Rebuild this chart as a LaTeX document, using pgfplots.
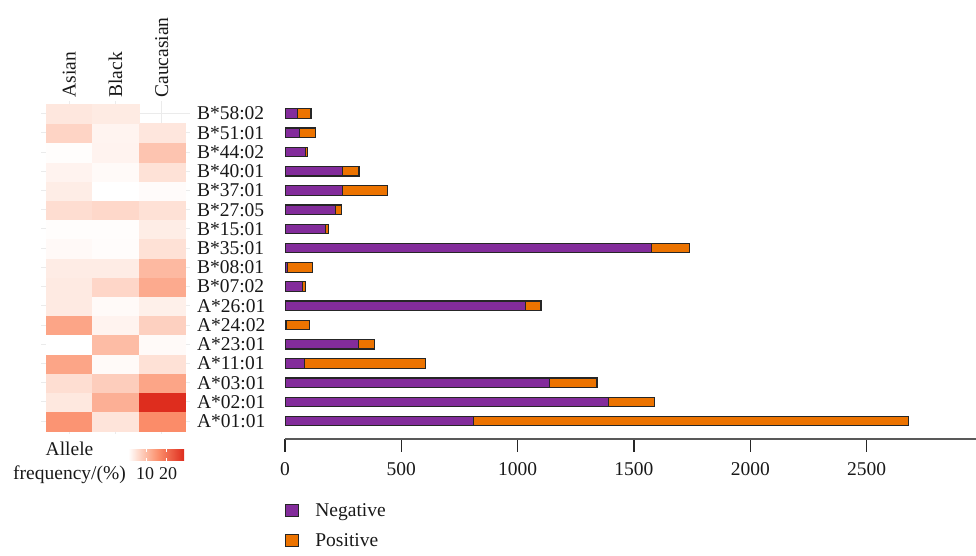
\documentclass[border=0pt]{standalone}
\usepackage{fontspec}
\setmainfont{Liberation Serif}
\usepackage{pgfplots}
\pgfplotsset{compat=1.18}
\pgfplotsset{/pgf/number format/assume math mode=true}
\pgfplotsset{sqlegend/.style={legend image code/.code={\draw[##1, line width=1.2pt] (0pt,-6pt) rectangle (13pt,6pt);}}}
\definecolor{negc}{RGB}{131,44,155}
\definecolor{posc}{RGB}{236,115,0}
\definecolor{gridc}{RGB}{235,235,235}
\definecolor{txt}{RGB}{25,25,25}
\pgfdeclareplotmark{tile}{\pgfpathrectangle{\pgfpoint{-23.17pt}{-9.61pt}}{\pgfpoint{46.33pt}{19.22pt}}\pgfusepathqfillstroke}

\pgfplotstableread{
x y v
1 1 15.0
2 1 4.4
3 1 16.1
1 2 3.9
2 2 11.4
3 2 28.7
1 3 5.2
2 3 7.4
3 3 12.8
1 4 12.8
2 4 1.5
3 4 4.8
1 5 0.8
2 5 9.7
3 5 1.5
1 6 12.8
2 6 2.4
3 6 7.05
1 7 3.6
2 7 1.5
3 7 2.8
1 8 3.6
2 8 6.2
3 8 12.1
1 9 3.3
2 9 3.3
3 9 10.1
1 10 1.6
2 10 1.2
3 10 4.8
1 11 1.06
2 11 1.06
3 11 3.2
1 12 5.3
2 12 6.0
3 12 4.8
1 13 3.2
2 13 0.8
3 13 1.33
1 14 2.4
2 14 1.46
3 14 4.65
1 15 1.06
2 15 2.4
3 15 8.6
1 16 6.5
2 16 2.3
3 16 4.1
1 17 4.0
2 17 3.5
}\heatdata

\pgfplotstableread{
y neg pos
1 811 1869
2 1392 195
3 1136 205
4 83 522
5 317 67
6 7 99
7 1034 66
8 76 11
9 10 107
10 1576 163
11 175 13
12 218 24
13 246 195
14 246 72
15 89 6
16 64 66
17 53 59
}\bardata

\begin{document}
\begin{tikzpicture}[font=\fontsize{19.5}{23}\selectfont, text=txt]
\useasboundingbox (0pt,0pt) rectangle (976pt,-556pt);
\begin{axis}[
  at={(41pt,-433.7pt)}, anchor=south west,
  scale only axis, width=149pt, height=332.7pt,
  xmin=0.392, xmax=3.608, ymin=0.344, ymax=17.656,
  xtick={1,2,3}, xticklabels={Asian,Black,Caucasian},
  xticklabel pos=upper,
  ytick={1,...,17},
  yticklabels={A*01:01,A*02:01,A*03:01,A*11:01,A*23:01,A*24:02,A*26:01,B*07:02,B*08:01,B*35:01,B*15:01,B*27:05,B*37:01,B*40:01,B*44:02,B*51:01,B*58:02},
  yticklabel pos=right,
  grid=major, major grid style={gridc, line width=1pt},
  axis line style={draw=none}, major tick length=0pt,
  xticklabel style={rotate=90, anchor=west},
  yticklabel style={anchor=west, xshift=3.5pt},
  colormap={heat}{rgb255(0pt)=(255,255,255); rgb255(143pt)=(254,225,214); rgb255(429pt)=(252,165,135); rgb255(548pt)=(251,140,105); rgb255(1000pt)=(222,45,30)},
  point meta min=0.8, point meta max=28.7,
  colorbar horizontal,
  colorbar style={
    at={(0.586,-0.046)}, anchor=north west,
    scale only axis, width=55.7pt, height=11.7pt,
    xtick={10,20}, xticklabels={{10\kern3pt},{\kern3pt20}}, ytick=\empty,
    axis line style={draw=none},
    xtick style={draw=white, line width=0.8pt},
    major tick length=2.5pt, tick align=inside, xtick pos=both,
    xticklabel pos=lower,
    xticklabel style={font=\fontsize{18}{22}\selectfont, yshift=-3.5pt},
  },
]
\addplot[scatter, only marks, mark=tile, point meta=explicit,
  scatter/use mapped color={draw=mapped color, fill=mapped color},
  mark options={line width=0.3pt}] table[x=x, y=y, meta=v] {\heatdata};
\end{axis}
\node[anchor=base] at (69.5pt,-455pt) {Allele};
\node[anchor=base] at (69.5pt,-479.5pt) {frequency/(\%)};

\begin{axis}[
  at={(285pt,-439pt)}, anchor=south west,
  scale only axis, width=691pt, height=335pt,
  xmin=0, xmax=2970, ymin=0.069, ymax=17.5,
  xbar stacked, bar width=9.5pt,
  axis x line*=bottom, axis y line=none,
  xtick={0,500,1000,1500,2000,2500},
  x axis line style={black!65, line width=1.3pt},
  xtick style={black!85, line width=1.2pt},
  major tick length=12.7pt, tick align=outside,
  xticklabel style={yshift=-7pt},
  scaled x ticks=false,
  /pgf/number format/set thousands separator={},
  legend style={at={(0,-0.185)}, anchor=north west, draw=none, fill=none,
    inner xsep=0pt, inner ysep=0pt, row sep=12pt, column sep=14pt,
    cells={anchor=west},
    font=\fontsize{19.5}{23}\selectfont},
]
\addplot[fill=negc, draw=black!85, line width=1.2pt, sqlegend]
  table[x=neg, y=y] {\bardata};
\addplot[fill=posc, draw=black!85, line width=1.2pt, sqlegend]
  table[x=pos, y=y] {\bardata};
\legend{Negative, Positive}
\end{axis}
\end{tikzpicture}
\end{document}
